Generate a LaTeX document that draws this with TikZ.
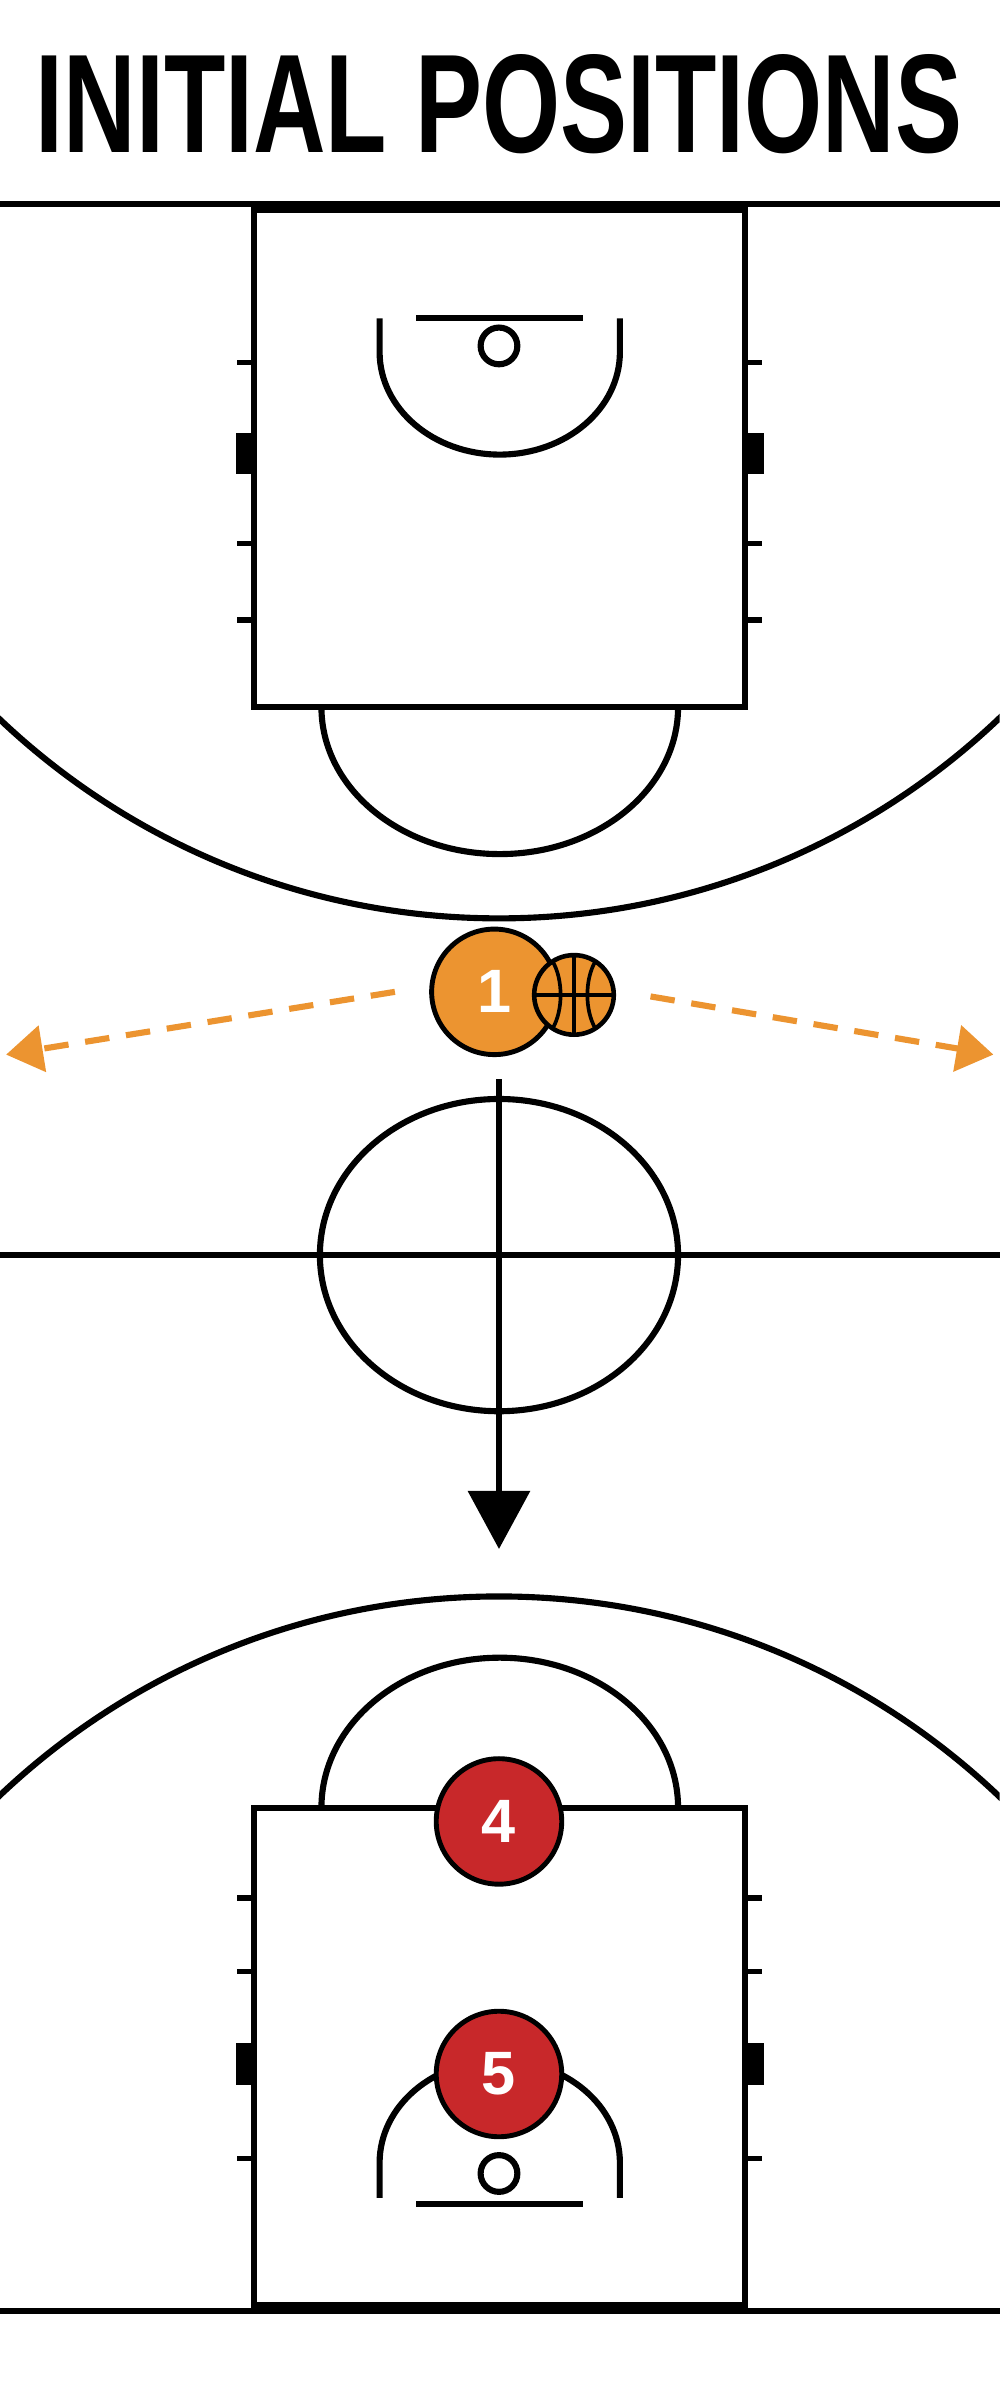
\documentclass[tikz,border=0pt]{standalone}
\usepackage{fontspec}
\setmainfont{Liberation Sans}
\usetikzlibrary{arrows.meta}
\definecolor{porange}{HTML}{EC9430}
\definecolor{pred}{HTML}{C8282A}
\tikzset{court/.style={line width=4pt,black},
 player/.style={circle,draw=black,line width=3.2pt,minimum size=82pt,inner sep=0pt,text=white,font=\bfseries\fontsize{40}{40}\selectfont},
 tick/.style={line width=3.5pt}}
\begin{document}
\begin{tikzpicture}[x=1pt,y=-1pt]
\useasboundingbox (0,0) rectangle (653,1568);
\fill[white] (0,0) rectangle (653,1568);
\node (title) at (326,68) {\resizebox{605pt}{64pt}{\bfseries INITIAL POSITIONS}};
% baselines
\draw[court] (0,133) -- (653,133);
\draw[court] (0,1510) -- (653,1510);
\draw[court] (0,820) -- (653,820);
% top half
\draw[court] (166,137) rectangle (487,462);
\draw[court] (272,208) -- (381,208);
\draw[court] (326,226) circle (12);
\draw[court] (248,208) -- (248,230) arc[start angle=180,end angle=0,x radius=78.5,y radius=67] -- (405,208);
\draw[court] (443,462) arc[start angle=0,end angle=180,x radius=116.5,y radius=96];
\begin{scope}
\clip (0,140) rectangle (653,700);
\draw[court] (326,126) circle (474);
\end{scope}
\foreach \y in {237,355,405}{\draw[tick] (155,\y)--(166,\y); \draw[tick] (487,\y)--(498,\y);}
\fill (154,283) rectangle (164,310); \fill (489,283) rectangle (499,310);
% bottom half
\draw[court] (166,1506) rectangle (487,1181);
\draw[court] (272,1440) -- (381,1440);
\draw[court] (326,1420) circle (12);
\draw[court] (248,1436) -- (248,1413) arc[start angle=-180,end angle=0,x radius=78.5,y radius=67] -- (405,1436);
\draw[court] (443,1181) arc[start angle=0,end angle=-180,x radius=116.5,y radius=98];
\begin{scope}
\clip (0,900) rectangle (653,1505);
\draw[court] (326,1517) circle (474);
\end{scope}
\foreach \y in {1240,1288,1410}{\draw[tick] (155,\y)--(166,\y); \draw[tick] (487,\y)--(498,\y);}
\fill (154,1335) rectangle (164,1362); \fill (489,1335) rectangle (499,1362);
% center circle
\draw[court] (326,820) ellipse[x radius=117,y radius=102];
% arrow
\coordinate (as) at (326,705);
\coordinate (ae) at (326,1012);
\draw[line width=4pt,-{Triangle[length=38pt,width=40pt]}] (as) -- (ae);
% players
\node[player,fill=porange] (p1) at (323,648) {1};
\node[circle,draw=black,line width=3pt,fill=porange,minimum size=52pt,inner sep=0pt] (ball) at (375,650) {};
\draw[line width=2.4pt] (ball.north)--(ball.south) (ball.west)--(ball.east);
\draw[line width=2.4pt] (361,628) .. controls (368,640) and (368,660) .. (361,672);
\draw[line width=2.4pt] (389,628) .. controls (382,640) and (382,660) .. (389,672);
\coordinate (l) at (4,689);
\coordinate (r) at (649,689);
\draw[porange,line width=4pt,dash pattern=on 16pt off 11pt,-{Triangle[length=24pt,width=30pt]}] (258,648) -- (l);
\draw[porange,line width=4pt,dash pattern=on 16pt off 11pt,-{Triangle[length=24pt,width=30pt]}] (425,651) -- (r);
\node[player,fill=pred] (p4) at (326,1190) {4};
\node[player,fill=pred] (p5) at (326,1355) {5};
\end{tikzpicture}
\end{document}
